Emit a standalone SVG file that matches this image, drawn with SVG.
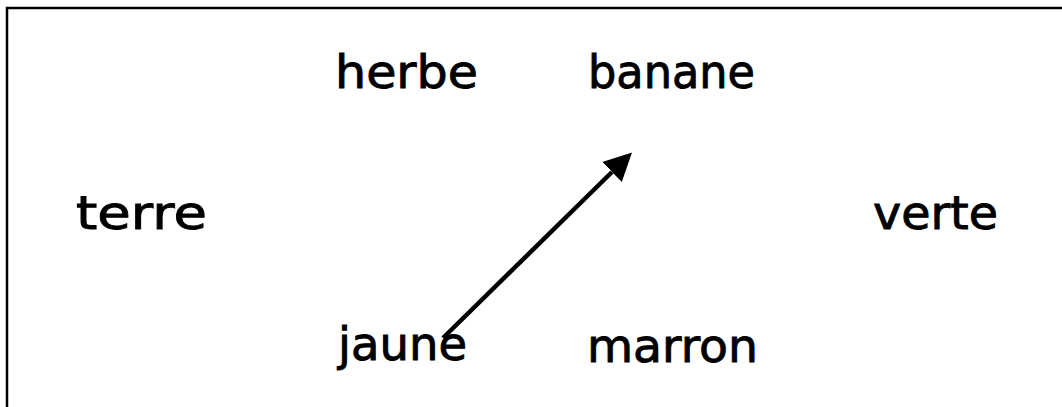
<svg xmlns="http://www.w3.org/2000/svg" width="1062" height="407" viewBox="0 0 1062 407">
<style>
.lbl{font-family:"DejaVu Sans","Liberation Sans",sans-serif;font-size:46px;fill:#000;stroke:#000;stroke-width:0.9}
.edge{stroke:#000;stroke-width:4.5;fill:none}
</style>
<defs>
<marker id="ah" markerUnits="userSpaceOnUse" markerWidth="30" markerHeight="28" refX="0" refY="14" orient="auto" viewBox="0 0 30 28">
<path d="M0,0 L28,14 L0,28 Z" fill="#000"/>
</marker>
</defs>
<rect x="7" y="8" width="1100" height="500" fill="#fff" stroke="#000" stroke-width="2.5"/>
<g id="herbe"><text class="lbl" x="335" y="88" textLength="143" lengthAdjust="spacingAndGlyphs">herbe</text></g>
<g id="banane"><text class="lbl" x="588" y="88" textLength="167" lengthAdjust="spacingAndGlyphs">banane</text></g>
<g id="terre"><text class="lbl" x="76" y="229" textLength="131" lengthAdjust="spacingAndGlyphs">terre</text></g>
<g id="verte"><text class="lbl" x="873" y="229" textLength="125" lengthAdjust="spacingAndGlyphs">verte</text></g>
<g id="jaune"><text class="lbl" x="338" y="360" textLength="129" lengthAdjust="spacingAndGlyphs">jaune</text></g>
<g id="marron"><text class="lbl" x="587" y="362" textLength="171" lengthAdjust="spacingAndGlyphs">marron</text></g>
<g id="connectors">
<line class="edge" x1="443" y1="338" x2="612" y2="172" marker-end="url(#ah)"/>
</g>
</svg>
